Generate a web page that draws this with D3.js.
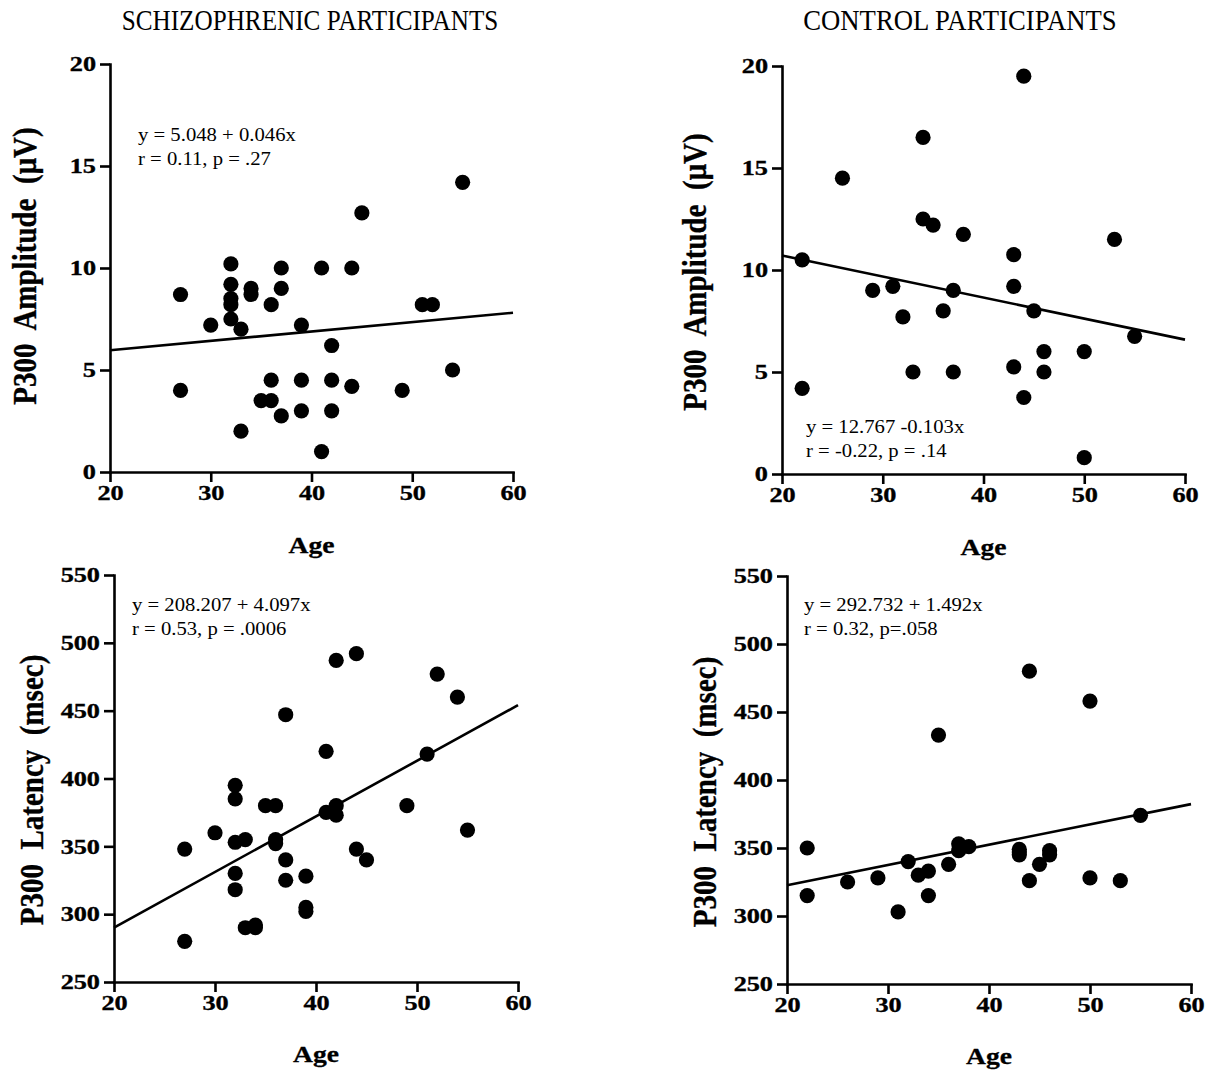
<!DOCTYPE html>
<html><head><meta charset="utf-8">
<script src="https://cdn.jsdelivr.net/npm/d3@7"></script>
<style>
body{margin:0;background:#fff}
svg text{font-family:"Liberation Serif","Times New Roman",serif;fill:#000}
</style></head><body>
<svg id="c" width="1212" height="1070"></svg>
<script>
// ---- text / ticks ----
const titles = ["SCHIZOPHRENIC PARTICIPANTS", "CONTROL PARTICIPANTS"];
const xTicks = [20, 30, 40, 50, 60];
const ampTicks = [0, 5, 10, 15, 20];
const latTicks = [250, 300, 350, 400, 450, 500, 550];
const ampLabel = "P300  Amplitude  (\u03BCV)";
const latLabel = "P300  Latency  (msec)";
const xLabel = "Age";

// ---- data: schizophrenic amplitude ----
const schizAmpAge = [27,27,30,32,32,32,32,32,33,33,34,34,35,36,36,36,37,37,37,39,39,39,41,41,42,42,42,44,44,45,49,51,52,54,55];
const schizAmp    = [8.7,4.0,7.2,10.2,9.2,8.5,8.2,7.5,7.0,2.0,9.0,8.7,3.5,8.2,4.5,3.5,10.0,9.0,2.75,7.2,4.5,3.0,10.0,1.0,6.2,4.5,3.0,10.0,4.2,12.7,4.0,8.2,8.2,5.0,14.2];
// ---- data: control amplitude ----
const ctrlAmpAge = [22,22,26,29,31,32,33,34,34,35,36,37,37,38,43,43,43,44,44,45,46,46,50,50,53,55];
const ctrlAmp    = [10.5,4.2,14.5,9.0,9.2,7.7,5.0,16.5,12.5,12.2,8.0,9.0,5.0,11.75,10.75,9.2,5.25,19.5,3.75,8.0,6.0,5.0,6.0,0.8,11.5,6.75];
// ---- data: schizophrenic latency ----
const schizLatAge = [27,27,30,32,32,32,32,32,33,33,34,34,35,36,36,36,37,37,37,39,39,39,41,41,42,42,42,44,44,45,49,51,52,54,55];
const schizLat    = [348,280,360,395,385,353,330,318,355,290,292,290,380,380,355,352,447,340,325,328,305,302,420,375,487,380,373,492,348,340,380,418,477,460,362];
// ---- data: control latency ----
const ctrlLatAge = [22,22,26,29,31,32,33,34,34,35,36,37,37,38,43,43,43,44,44,45,46,46,50,50,53,55];
const ctrlLat    = [350,315,325,328,303,340,330,333,315,433,338,353,348,351,349,347,345,480,326,338,348,345,458,328,326,374];

// ---- regression fits [intercept, slope] and annotations ----
const fitSchizAmp = [5.048, 0.046];
const fitCtrlAmp  = [12.767, -0.103];
const fitSchizLat = [208.207, 4.097];
const fitCtrlLat  = [292.732, 1.492];
const eqSchizAmp = ["y = 5.048 + 0.046x", "r = 0.11, p = .27"];
const eqCtrlAmp  = ["y = 12.767 -0.103x", "r = -0.22, p = .14"];
const eqSchizLat = ["y = 208.207 + 4.097x", "r = 0.53, p = .0006"];
const eqCtrlLat  = ["y = 292.732 + 1.492x", "r = 0.32, p=.058"];

const svg = d3.select("#c");

// titles
svg.append("text").attr("transform", "translate(310,30) scale(0.84,1)").attr("text-anchor","middle")
  .style("font-size","30px").text(titles[0]);
svg.append("text").attr("transform", "translate(960,30) scale(0.89,1)").attr("text-anchor","middle")
  .style("font-size","30px").text(titles[1]);

const panels = [
  {ages: schizAmpAge, vals: schizAmp, fit: fitSchizAmp, eq: eqSchizAmp, dom: [0,20], ticks: ampTicks, label: ampLabel,
   x0:110, x1:513, yT:64, yB:472, eqX:138, eqY:141, labX:36, labY:266, ageY:553},
  {ages: ctrlAmpAge, vals: ctrlAmp, fit: fitCtrlAmp, eq: eqCtrlAmp, dom: [0,20], ticks: ampTicks, label: ampLabel,
   x0:782, x1:1185, yT:66, yB:474, eqX:806, eqY:433, labX:706, labY:272, ageY:555},
  {ages: schizLatAge, vals: schizLat, fit: fitSchizLat, eq: eqSchizLat, dom: [250,550], ticks: latTicks, label: latLabel,
   x0:114, x1:518, yT:575, yB:982, eqX:132, eqY:611, labX:43, labY:790, ageY:1062},
  {ages: ctrlLatAge, vals: ctrlLat, fit: fitCtrlLat, eq: eqCtrlLat, dom: [250,550], ticks: latTicks, label: latLabel,
   x0:787, x1:1191, yT:576, yB:984, eqX:804, eqY:611, labX:716, labY:792, ageY:1064}
];

panels.forEach(p => {
  const x = d3.scaleLinear().domain([20,60]).range([p.x0, p.x1]);
  const y = d3.scaleLinear().domain(p.dom).range([p.yB, p.yT]);

  const gx = svg.append("g").attr("transform", `translate(0,${p.yB})`)
    .call(d3.axisBottom(x).tickValues(xTicks).tickSize(10).tickSizeOuter(0).tickPadding(3));
  const gy = svg.append("g").attr("transform", `translate(${p.x0},0)`)
    .call(d3.axisLeft(y).tickValues(p.ticks).tickSize(10).tickSizeOuter(0).tickPadding(4));

  [gx, gy].forEach(g => {
    g.attr("font-family", null).attr("font-size", null);
    g.selectAll("path.domain").attr("stroke","#000").attr("stroke-width",2.6).attr("stroke-linecap","square");
    g.selectAll(".tick line").attr("stroke","#000").attr("stroke-width",2.6);
    g.selectAll(".tick text").style("font-size","21px").style("font-weight","bold")
      .style("stroke","#000").style("stroke-width","0.35px")
      .style("transform-box","fill-box");
  });
  gx.selectAll(".tick text").style("transform-origin","center").style("transform","scaleX(1.25)");
  gy.selectAll(".tick text").style("transform-origin","right center").style("transform","scaleX(1.25)");

  // regression line
  const line = d3.line().x(d => x(d)).y(d => y(p.fit[0] + p.fit[1]*d));
  svg.append("path").datum([20,60]).attr("d", line)
    .attr("fill","none").attr("stroke","#000").attr("stroke-width",2.6);

  // points
  svg.append("g").selectAll("circle").data(p.ages.map((a,i)=>[a,p.vals[i]])).join("circle")
    .attr("cx", d => x(d[0])).attr("cy", d => y(d[1])).attr("r", 7.6).attr("fill","#000");

  // equation
  p.eq.forEach((t,i) => {
    svg.append("text").attr("transform", `translate(${p.eqX},${p.eqY + i*24}) scale(1.15,1.05)`)
      .style("font-size","18px").text(t);
  });

  // axis labels
  svg.append("text").attr("transform", `translate(${(p.x0+p.x1)/2},${p.ageY}) scale(1.15,1)`)
    .attr("text-anchor","middle").style("font-size","24px").style("font-weight","bold")
    .style("stroke","#000").style("stroke-width","0.3px").text(xLabel);
  svg.append("text").attr("transform", `translate(${p.labX},${p.labY}) rotate(-90) scale(1,1.15)`)
    .attr("text-anchor","middle").style("font-size","29px").style("font-weight","bold")
    .style("stroke","#000").style("stroke-width","0.3px")
    .style("white-space","pre").text(p.label);
});
</script>
</body></html>
